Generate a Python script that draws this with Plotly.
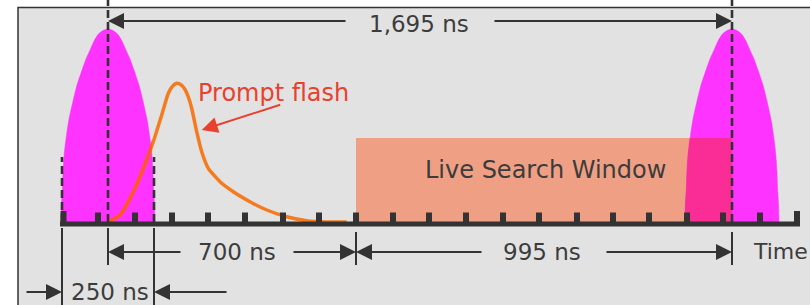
import plotly.graph_objects as go

# ---------------- data (schematic units: x = time axis, y = amplitude) ----------------
tick_positions = [0, 36, 73, 110, 146, 183, 221, 257, 294, 331, 367, 404,
                  441, 477, 515, 551, 587, 625, 661, 698, 735]

pulse_centers = [46, 670]
pulse_offsets = [-47, -46.5, -45.5, -45, -43.7, -41.5, -39, -35, -31, -26, -22, -17.5, -14, -10, -5, 0,
                 5, 10, 14, 17.5, 22, 26, 31, 35, 39, 41.5, 43.7, 45, 45.5, 46.5, 47]
pulse_heights = [0, 18, 35, 50, 69, 87, 103, 121, 137, 152, 163, 173, 181, 187.5, 191.5, 193,
                 191.5, 187.5, 181, 173, 163, 152, 137, 121, 103, 87, 69, 50, 35, 18, 0]

flash_t = [46, 58, 71.3, 81.3, 91.3, 99.7, 106.3, 110.5, 114.7, 119, 123, 126.5, 129.7, 134.7,
           139.7, 146.3, 158, 171.3, 188, 204.7, 224.7, 244.7, 264.7, 284.7]
flash_y = [0, 7, 30.3, 53.7, 80.3, 107, 128.7, 135.8, 138.7, 137.2, 132.5, 124.5, 113.7, 90.3,
           70.3, 53.7, 40.3, 30.3, 20.3, 12, 5.3, 1.3, 0, 0]

window_start, window_end, window_top = 294, 670, 84
gate_edges = [0, 92]          # 250 ns gate
gate_height = 65
top_level = 222               # top of drawing

arrow_y_top = 201
arrow_y_mid = -30
arrow_y_low = -70

labels = {
    "span": "1,695 ns",
    "flash": "Prompt flash",
    "window": "Live Search Window",
    "a": "700 ns",
    "b": "995 ns",
    "time": "Time",
    "gate": "250 ns",
}

# ---------------- layout constants ----------------
W, H = 810, 305
X_RANGE = [-62, 748]
Y_RANGE = [-83, 222]
BG = "#e2e2e2"
DARK = "#333333"
TEXT = "#3c3c3c"
MAGENTA = "#ff33ff"
OVERLAP = "#fa2d96"
SALMON = "#efa084"
ORANGE = "#f47b20"
ORANGE_IN = "#ff5528"
RED = "#e8412d"
FONT = "DejaVu Sans"


def xp(v):
    return (v - X_RANGE[0]) / (X_RANGE[1] - X_RANGE[0])


def yp(v):
    return (v - Y_RANGE[0]) / (Y_RANGE[1] - Y_RANGE[0])


fig = go.Figure()

# Live search window
fig.add_trace(go.Bar(x=[(window_start + window_end) / 2], y=[window_top], base=0,
                     width=[window_end - window_start], marker=dict(color=SALMON, line_width=0),
                     hoverinfo="skip", showlegend=False))

# laser pulses
for c in pulse_centers:
    fig.add_trace(go.Scatter(x=[c + o for o in pulse_offsets], y=pulse_heights,
                             mode="lines", fill="toself", fillcolor=MAGENTA,
                             line=dict(color=MAGENTA, width=0.5, shape="spline", smoothing=0.6),
                             hoverinfo="skip", showlegend=False))

# prompt flash
fig.add_trace(go.Scatter(x=flash_t, y=flash_y, mode="lines",
                         line=dict(color=ORANGE, width=3.5, shape="spline", smoothing=0.5),
                         hoverinfo="skip", showlegend=False))

# overlap of second pulse with window (clipped by subplot x2/y2)
c2 = pulse_centers[1]
fig.add_trace(go.Scatter(x=[c2 + o for o in pulse_offsets], y=pulse_heights,
                         mode="lines", fill="toself", fillcolor=OVERLAP,
                         line=dict(color=OVERLAP, width=0.5, shape="spline", smoothing=0.6),
                         xaxis="x2", yaxis="y2", hoverinfo="skip", showlegend=False))

# prompt flash inside first pulse (clipped by subplot x3/y3)
fig.add_trace(go.Scatter(x=flash_t, y=flash_y, mode="lines",
                         line=dict(color=ORANGE_IN, width=3.5, shape="spline", smoothing=0.5),
                         xaxis="x3", yaxis="y3", hoverinfo="skip", showlegend=False))

shapes = []
# frame
shapes.append(dict(type="rect", xref="paper", yref="paper", x0=18 / W, x1=1.05,
                   y0=-0.05, y1=1 - 7.5 / H, fillcolor=BG,
                   line=dict(color=DARK, width=1.5), layer="below"))
# baseline
shapes.append(dict(type="rect", xref="x", yref="y", x0=tick_positions[0] - 2,
                   x1=tick_positions[-1] + 3, y0=-4.5, y1=0.5,
                   fillcolor=DARK, line_width=0, layer="above"))
# ticks
for i, t in enumerate(tick_positions):
    end = i in (0, len(tick_positions) - 1)
    shift = 1.5 if i == 0 else 0
    shapes.append(dict(type="rect", xref="x", yref="y", x0=t - 3 + shift,
                       x1=t + 3 + shift, y0=0, y1=11 if end else 9.5,
                       fillcolor=DARK, line_width=0, layer="above"))
# dashed pulse-center lines
for c in pulse_centers:
    shapes.append(dict(type="line", xref="x", yref="y", x0=c, x1=c, y0=0, y1=top_level,
                       line=dict(color=DARK, width=2.6, dash="8px,4px"), layer="above"))
# dashed gate lines
for g in gate_edges:
    shapes.append(dict(type="line", xref="x", yref="y", x0=g, x1=g, y0=0, y1=gate_height,
                       line=dict(color=DARK, width=2.6, dash="8px,4px"), layer="above"))
# solid extension lines below axis
for g in gate_edges:
    shapes.append(dict(type="line", xref="x", yref="y", x0=g, x1=g, y0=-6, y1=Y_RANGE[0],
                       line=dict(color=DARK, width=2), layer="above"))
shapes.append(dict(type="line", xref="x", yref="y", x0=pulse_centers[0], x1=pulse_centers[0],
                   y0=-6, y1=-43, line=dict(color=DARK, width=2), layer="above"))
for v in (window_start, pulse_centers[1]):
    shapes.append(dict(type="line", xref="x", yref="y", x0=v, x1=v, y0=-10, y1=-43,
                       line=dict(color=DARK, width=2), layer="above"))

ann = []


def arrow(tip_x, tail_x, y, color=DARK, tip_y=None, tail_y=None):
    ann.append(dict(x=tip_x, y=y if tip_y is None else tip_y,
                    ax=tail_x, ay=y if tail_y is None else tail_y,
                    xref="x", yref="y", axref="x", ayref="y", text="",
                    showarrow=True, arrowhead=2, arrowsize=1.6, arrowwidth=2,
                    arrowcolor=color, standoff=0))


def label(x, y, text, color=TEXT, size=23, xanchor="center"):
    ann.append(dict(x=x, y=y, xref="x", yref="y", text=text, showarrow=False,
                    font=dict(family=FONT, size=size, color=color),
                    xanchor=xanchor, yanchor="middle"))


# 1,695 ns
arrow(pulse_centers[0], 285, arrow_y_top)
arrow(pulse_centers[1], 431, arrow_y_top)
label(357, arrow_y_top - 3, labels["span"])
# 700 ns
arrow(pulse_centers[0], 120, arrow_y_mid)
arrow(window_start, 230, arrow_y_mid)
label(174.5, arrow_y_mid, labels["a"])
# 995 ns
arrow(window_start, 421, arrow_y_mid)
arrow(pulse_centers[1], 543, arrow_y_mid)
label(479.5, arrow_y_mid, labels["b"])
label(689, arrow_y_mid + 1, labels["time"], size=22, xanchor="left")
# 250 ns
arrow(gate_edges[0], -37, arrow_y_low)
arrow(gate_edges[1], 166, arrow_y_low)
label(48, arrow_y_low, labels["gate"])
# prompt flash
arrow(139.7, 219.7, 0, color=RED, tip_y=92, tail_y=117.7)
label(211.5, 129.5, labels["flash"], color=RED, size=24)
# window label
label(483.5, 52, labels["window"], size=24)

ax_common = dict(visible=False, showgrid=False, zeroline=False, fixedrange=True)
fig.update_layout(
    width=W, height=H, margin=dict(l=0, r=0, t=0, b=0),
    paper_bgcolor="white", plot_bgcolor="rgba(0,0,0,0)",
    showlegend=False, bargap=0,
    xaxis=dict(range=X_RANGE, domain=[0, 1], **ax_common),
    yaxis=dict(range=Y_RANGE, domain=[0, 1], **ax_common),
    xaxis2=dict(range=[window_start, window_end], domain=[xp(window_start), xp(window_end)],
                anchor="y2", **ax_common),
    yaxis2=dict(range=[0, window_top], domain=[yp(0), yp(window_top)], anchor="x2", **ax_common),
    xaxis3=dict(range=[pulse_centers[0] + pulse_offsets[0], pulse_centers[0] + pulse_offsets[-5]],
                domain=[xp(pulse_centers[0] + pulse_offsets[0]), xp(pulse_centers[0] + pulse_offsets[-5])],
                anchor="y3", **ax_common),
    yaxis3=dict(range=Y_RANGE, domain=[0, 1], anchor="x3", **ax_common),
    shapes=shapes, annotations=ann,
)

fig.write_html("out.html", config={"displayModeBar": False},
               post_script="document.body.style.margin='0';document.body.style.overflow='hidden';")
